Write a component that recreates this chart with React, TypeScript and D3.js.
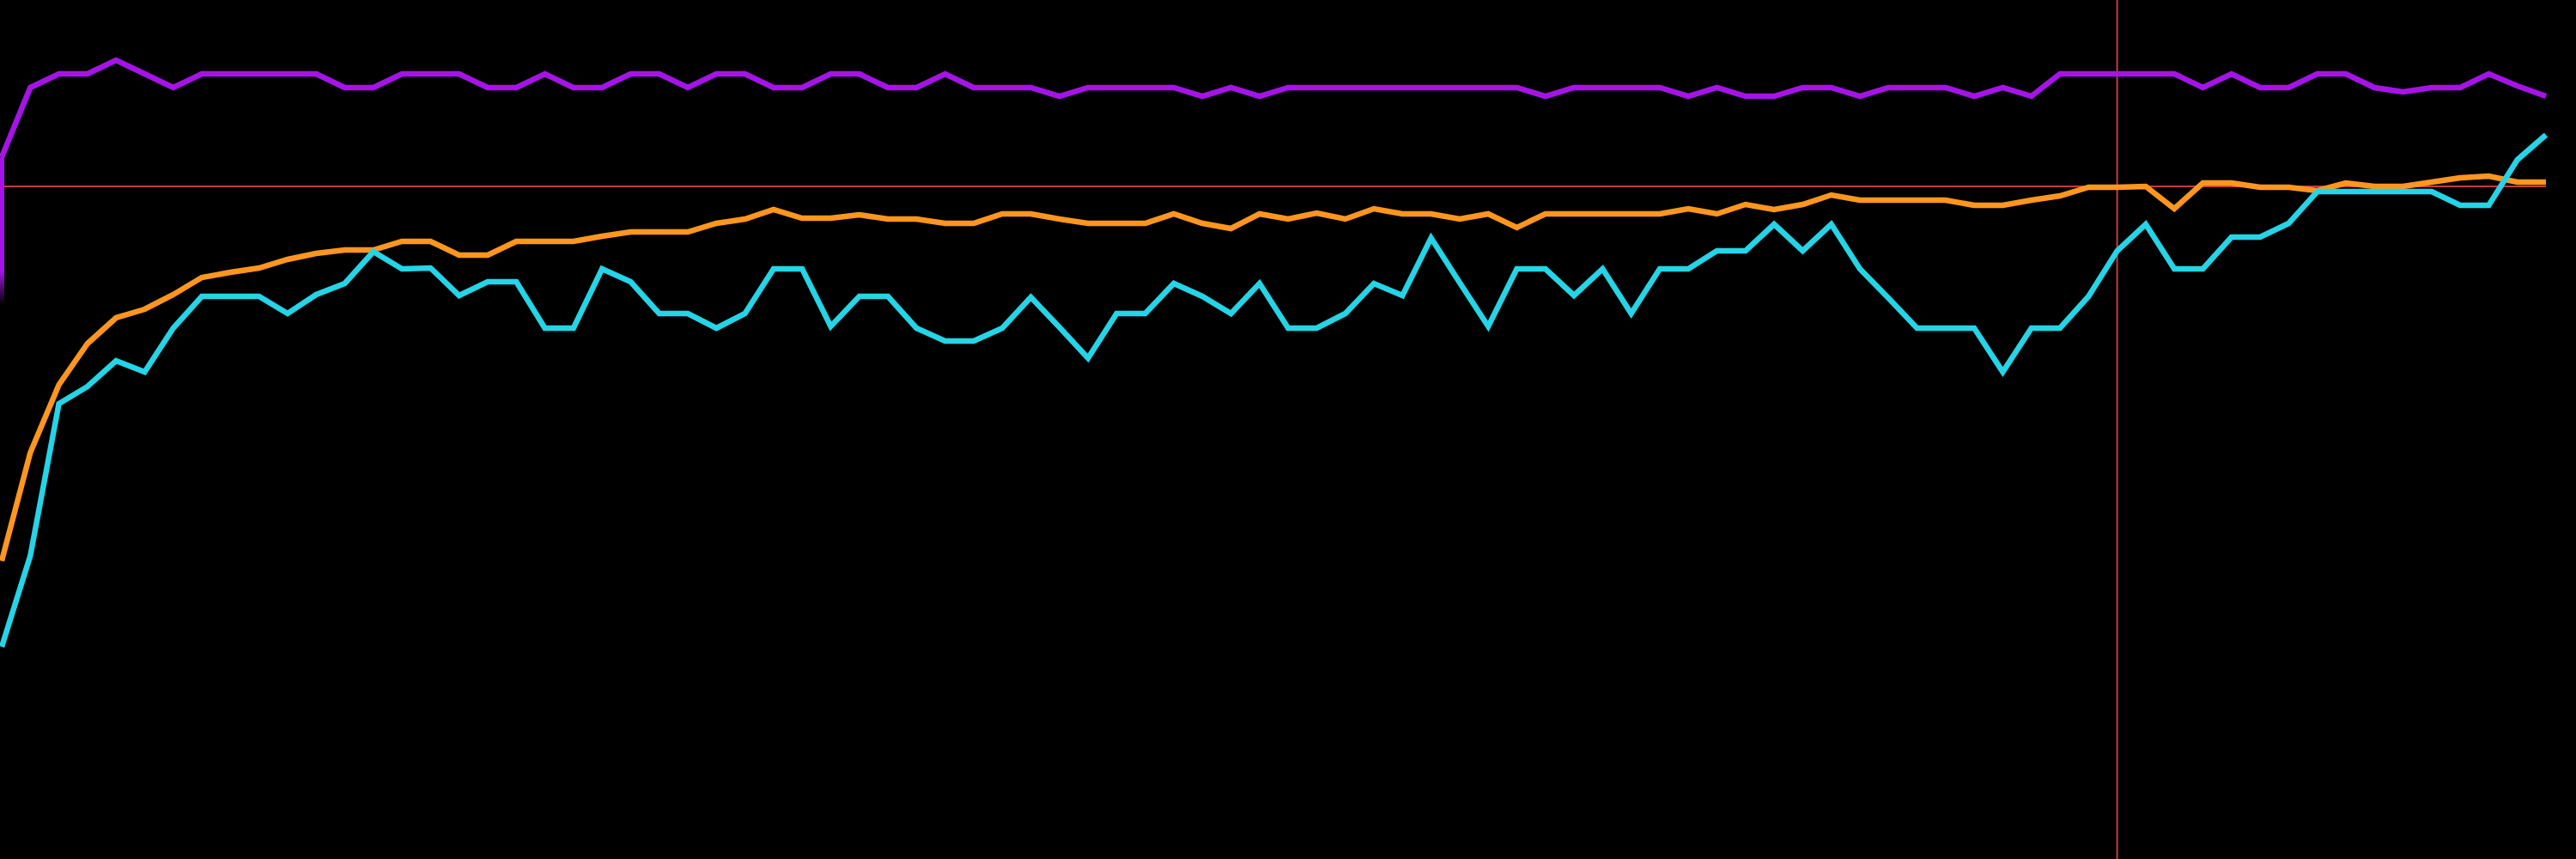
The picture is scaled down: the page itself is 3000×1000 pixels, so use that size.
import React from "react";
import * as d3 from "d3";

const WIDTH = 3000;
const HEIGHT = 1000;

// Series values (0–100 scale), one per step 0..89
const purpleSeries = [
  81.7, 89.8, 91.4, 91.4, 93.0, 91.4, 89.8, 91.4, 91.4, 91.4,
  91.4, 91.4, 89.8, 89.8, 91.4, 91.4, 91.4, 89.8, 89.8, 91.4,
  89.8, 89.8, 91.4, 91.4, 89.8, 91.4, 91.4, 89.8, 89.8, 91.4,
  91.4, 89.8, 89.8, 91.4, 89.8, 89.8, 89.8, 88.8, 89.8, 89.8,
  89.8, 89.8, 88.8, 89.8, 88.8, 89.8, 89.8, 89.8, 89.8, 89.8,
  89.8, 89.8, 89.8, 89.8, 88.8, 89.8, 89.8, 89.8, 89.8, 88.8,
  89.8, 88.8, 88.8, 89.8, 89.8, 88.8, 89.8, 89.8, 89.8, 88.8,
  89.8, 88.8, 91.4, 91.4, 91.4, 91.4, 91.4, 89.8, 91.4, 89.8,
  89.8, 91.4, 91.4, 89.8, 89.3, 89.8, 89.8, 91.4, 90.0, 88.8,
];

const orangeSeries = [
  34.7, 47.3, 55.2, 60.0, 63.0, 64.0, 65.7, 67.7, 68.3, 68.8,
  69.8, 70.5, 70.9, 70.9, 71.9, 71.9, 70.3, 70.3, 71.9, 71.9,
  71.9, 72.5, 73.0, 73.0, 73.0, 74.0, 74.5, 75.6, 74.6, 74.6,
  75.0, 74.5, 74.5, 74.0, 74.0, 75.1, 75.1, 74.5, 74.0, 74.0,
  74.0, 75.1, 74.0, 73.4, 75.1, 74.5, 75.2, 74.5, 75.7, 75.1,
  75.1, 74.5, 75.1, 73.5, 75.1, 75.1, 75.1, 75.1, 75.1, 75.7,
  75.1, 76.2, 75.6, 76.2, 77.3, 76.7, 76.7, 76.7, 76.7, 76.1,
  76.1, 76.7, 77.2, 78.2, 78.2, 78.3, 75.7, 78.7, 78.7, 78.2,
  78.2, 77.8, 78.7, 78.3, 78.3, 78.8, 79.3, 79.5, 78.8, 78.8,
];

const cyanSeries = [
  24.7, 35.3, 53.0, 55.0, 58.0, 56.7, 61.8, 65.5, 65.5, 65.5,
  63.5, 65.7, 67.0, 70.7, 68.7, 68.8, 65.6, 67.2, 67.2, 61.8,
  61.8, 68.7, 67.2, 63.5, 63.5, 61.8, 63.5, 68.7, 68.7, 62.0,
  65.5, 65.5, 61.8, 60.3, 60.3, 61.8, 65.4, 61.9, 58.3, 63.5,
  63.5, 67.0, 65.5, 63.5, 67.0, 61.8, 61.8, 63.5, 67.0, 65.6,
  72.3, 67.1, 62.0, 68.7, 68.7, 65.6, 68.7, 63.5, 68.7, 68.7,
  70.8, 70.8, 73.9, 70.8, 73.9, 68.7, 65.3, 61.8, 61.8, 61.8,
  56.7, 61.8, 61.8, 65.5, 70.8, 73.9, 68.7, 68.7, 72.4, 72.4,
  74.0, 77.7, 77.7, 77.7, 77.7, 77.7, 76.1, 76.1, 81.4, 84.3,
];

// Reference markers
const thresholdValue = 78.3; // horizontal red line
const markerStep = 74; // vertical red line
const purpleLeadFade = [68.5, 64.5]; // fading tail under the first purple point

const series = [
  { name: "purple", values: purpleSeries, color: "#a514e6" },
  { name: "orange", values: orangeSeries, color: "#ff961f" },
  { name: "cyan", values: cyanSeries, color: "#25d4e6" },
];

export default function App() {
  const n = purpleSeries.length;
  const x = d3.scaleLinear().domain([0, n - 1]).range([2, 2965]);
  const y = d3.scaleLinear().domain([0, 100]).range([HEIGHT, 0]);
  const line = d3
    .line<number>()
    .x((_, i) => x(i))
    .y((d) => y(d));

  const leadTop = y(purpleSeries[0]);
  const leadFadeStart = y(purpleLeadFade[0]);
  const leadFadeEnd = y(purpleLeadFade[1]);

  return (
    <svg
      width={WIDTH}
      height={HEIGHT}
      style={{ position: "fixed", left: 0, top: 0, background: "#000", display: "block" }}
    >
      <defs>
        <linearGradient
          id="leadFade"
          gradientUnits="userSpaceOnUse"
          x1={0}
          y1={leadTop}
          x2={0}
          y2={leadFadeEnd}
        >
          <stop offset={0} stopColor="#a514e6" stopOpacity={1} />
          <stop
            offset={(leadFadeStart - leadTop) / (leadFadeEnd - leadTop)}
            stopColor="#a514e6"
            stopOpacity={1}
          />
          <stop offset={1} stopColor="#a514e6" stopOpacity={0} />
        </linearGradient>
      </defs>
      <rect x={0} y={0} width={WIDTH} height={HEIGHT} fill="#000" />
      <line
        x1={0}
        x2={x(n - 1)}
        y1={y(thresholdValue)}
        y2={y(thresholdValue)}
        stroke="#c43c3c"
        strokeWidth={2}
      />
      <line
        x1={x(markerStep)}
        x2={x(markerStep)}
        y1={0}
        y2={HEIGHT}
        stroke="#c43c3c"
        strokeWidth={2}
      />
      <line
        x1={x(0)}
        x2={x(0)}
        y1={leadTop}
        y2={leadFadeEnd}
        stroke="url(#leadFade)"
        strokeWidth={6}
      />
      {series.map((s) => (
        <path
          key={s.name}
          d={line(s.values) || ""}
          fill="none"
          stroke={s.color}
          strokeWidth={6.5}
          strokeLinejoin="miter"
          strokeLinecap="butt"
        />
      ))}
    </svg>
  );
}
